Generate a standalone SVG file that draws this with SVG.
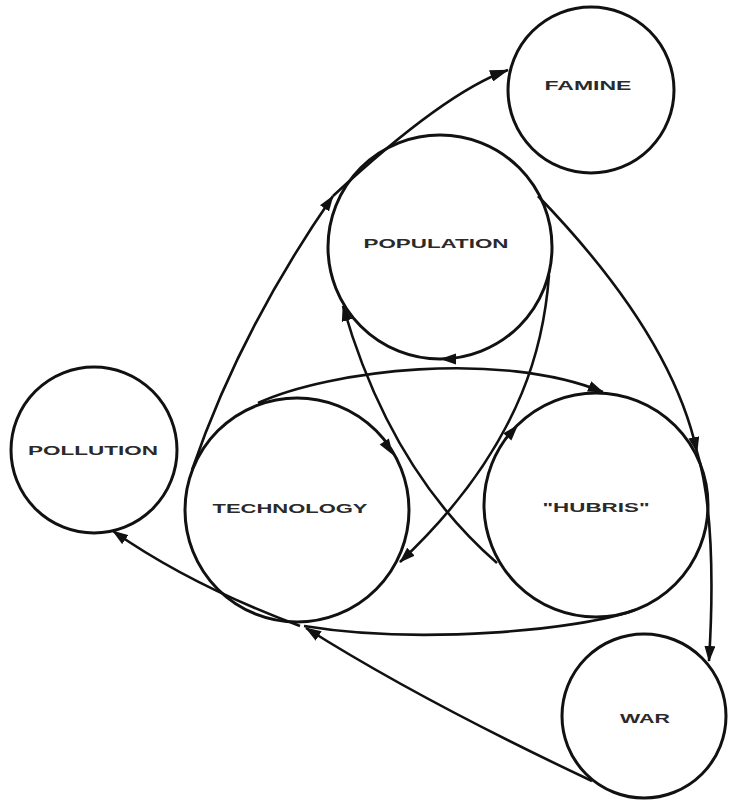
<svg xmlns="http://www.w3.org/2000/svg" xmlns:xlink="http://www.w3.org/1999/xlink" width="729" height="802" viewBox="0 0 729 802">
<style>
.node { fill: none; stroke: #111; stroke-width: 3; }
.lbl { font-family: "Liberation Sans", Arial, sans-serif; font-size: 13px; font-weight: bold; fill: #2a2a2a; text-anchor: middle; }
.edge { fill: none; stroke: #111; stroke-width: 2.6; }
.ah { fill: #111; }
</style>
<defs>
<marker id="arr" viewBox="0 0 16 11" refX="15" refY="5.5" markerWidth="16" markerHeight="11" markerUnits="userSpaceOnUse" orient="auto">
<path d="M0,0 L16,5.5 L0,11 Z" fill="#111"/>
</marker>
<marker id="arrL" viewBox="0 0 19 12" refX="18" refY="6" markerWidth="19" markerHeight="12" markerUnits="userSpaceOnUse" orient="auto">
<path d="M0,0 L19,6 L0,12 Z" fill="#111"/>
</marker>
<path id="ah" d="M0,0 L-16,-5.5 L-16,5.5 Z"/>
</defs>
<rect width="729" height="802" fill="#fff"/>

<g id="connectors">
<path class="edge" d="M192,470 Q240,330 333,196" marker-end="url(#arr)"/>
<path class="edge" d="M333,196 Q445,92 508,70" marker-end="url(#arrL)"/>
<path class="edge" d="M538,196 C595,255 675,350 697,452" marker-end="url(#arr)"/>
<path class="edge" d="M697,452 C712,500 714,580 709,661" marker-end="url(#arr)"/>
<path class="edge" d="M258,403 C330,370 500,350 603,392" marker-end="url(#arr)"/>
<path class="edge" d="M635,610 C580,630 420,645 304,626"/>
<path class="edge" d="M592,781 Q420,700 306,628" marker-end="url(#arr)"/>
<path class="edge" d="M300,626 Q190,585 113,531" marker-end="url(#arr)"/>
<path class="edge" d="M497,563 Q390,470 343,306" marker-end="url(#arr)"/>
<path class="edge" d="M549,275 C545,330 530,440 400,562" marker-end="url(#arr)"/>
<use xlink:href="#ah" class="ah" transform="translate(440,359) rotate(180)"/>
<use xlink:href="#ah" class="ah" transform="translate(393,455) rotate(57)"/>
<use xlink:href="#ah" class="ah" transform="translate(518,425) rotate(-48)"/>
</g>

<g id="famine">
<circle class="node" cx="591" cy="90" r="83"/>
<text class="lbl" x="588" y="90" textLength="87" lengthAdjust="spacingAndGlyphs">FAMINE</text>
</g>
<g id="population">
<circle class="node" cx="440" cy="247" r="112"/>
<text class="lbl" x="436" y="248" textLength="145" lengthAdjust="spacingAndGlyphs">POPULATION</text>
</g>
<g id="pollution">
<circle class="node" cx="94" cy="450" r="83"/>
<text class="lbl" x="93" y="455" textLength="130" lengthAdjust="spacingAndGlyphs">POLLUTION</text>
</g>
<g id="technology">
<circle class="node" cx="297" cy="510" r="112"/>
<text class="lbl" x="290" y="513" textLength="155" lengthAdjust="spacingAndGlyphs">TECHNOLOGY</text>
</g>
<g id="hubris">
<circle class="node" cx="596" cy="505" r="112"/>
<text class="lbl" x="596" y="512" textLength="107" lengthAdjust="spacingAndGlyphs">"HUBRIS"</text>
</g>
<g id="war">
<circle class="node" cx="644" cy="716" r="82"/>
<text class="lbl" x="645" y="723" textLength="50" lengthAdjust="spacingAndGlyphs">WAR</text>
</g>
</svg>
